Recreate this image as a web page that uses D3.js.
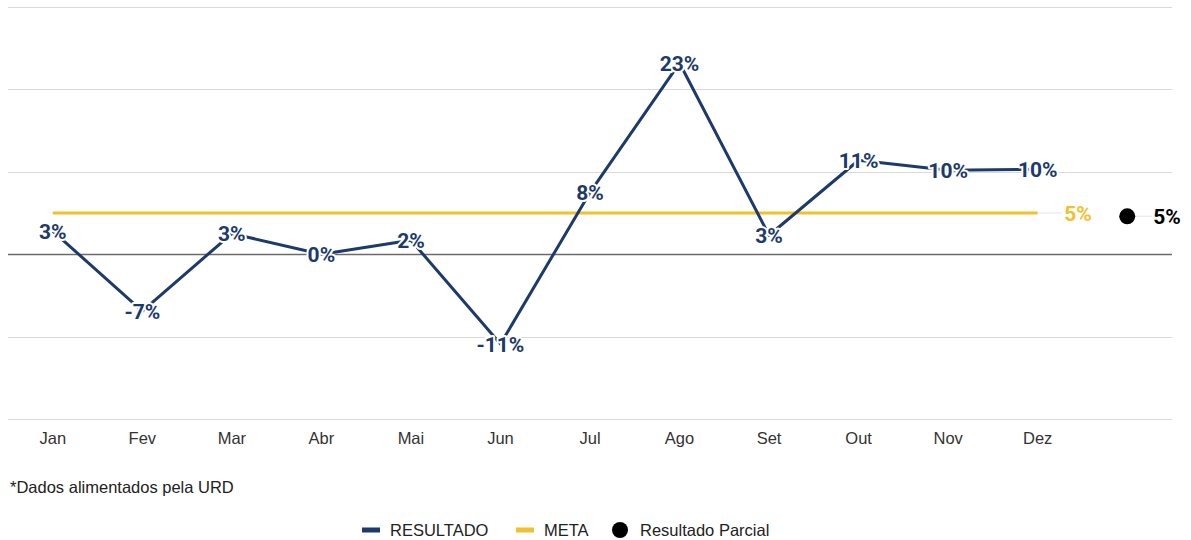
<!DOCTYPE html>
<html>
<head>
<meta charset="utf-8">
<script src="https://cdn.jsdelivr.net/npm/d3@7"></script>
<style>
  body { margin: 0; background: #fff; }
  svg { display: block; }
</style>
</head>
<body>
<div id="chart"></div>
<script>
var months = ["Jan", "Fev", "Mar", "Abr", "Mai", "Jun", "Jul", "Ago", "Set", "Out", "Nov", "Dez"];
var resultado = [2.8, -6.9, 2.5, 0, 1.7, -10.9, 7.5, 23.2, 2.3, 11.4, 10.2, 10.3];
var resultadoLabels = ["3%", "-7%", "3%", "0%", "2%", "-11%", "8%", "23%", "3%", "11%", "10%", "10%"];
var meta = 5;
var metaLabel = "5%";
var parcial = 4.6;
var parcialLabel = "5%";
var yTicks = [-20, -10, 0, 10, 20, 30];

var W = 1191, H = 540;
var NAVY = "#1c3a6a", YELLOW = "#f2c02b";
var SANS = "'Liberation Sans', Arial, sans-serif";

var svg = d3.select("#chart").append("svg")
  .attr("width", W)
  .attr("height", H);

// one extra empty band holds the partial result dot
var cats = months.concat([""]);
var x = d3.scaleBand().domain(cats).range([8, 1172]);
var y = d3.scaleLinear().domain([-20, 30]).range([419, 7]);
var cx = function(m) { return x(m) + x.bandwidth() / 2; };

// gridlines
svg.append("g").selectAll("line")
  .data(yTicks)
  .enter().append("line")
  .attr("x1", 8).attr("x2", 1172)
  .attr("y1", function(d) { return Math.round(y(d)) + 0.5; })
  .attr("y2", function(d) { return Math.round(y(d)) + 0.5; })
  .style("stroke", function(d) { return d === 0 ? "#6b6b6b" : "#d9d9d9"; })
  .style("stroke-width", function(d) { return d === 0 ? 1.5 : 1.2; });

// x axis labels
var xAxis = svg.append("g")
  .attr("transform", "translate(0,430)")
  .call(d3.axisBottom(x).tickSize(0).tickPadding(0));
xAxis.select(".domain").remove();
xAxis.selectAll("text")
  .attr("dy", "0.85em")
  .style("font-family", SANS)
  .style("font-size", "16.5px")
  .style("fill", "#333");

// meta line
svg.append("line")
  .attr("x1", cx("Jan")).attr("x2", cx("Dez"))
  .attr("y1", y(meta)).attr("y2", y(meta))
  .style("stroke", YELLOW)
  .style("stroke-width", 3);

// leader lines for end labels
svg.append("line")
  .attr("x1", cx("Dez")).attr("x2", 1062)
  .attr("y1", y(meta)).attr("y2", y(meta))
  .style("stroke", "#eeeeee").style("stroke-width", 1.5);
svg.append("line")
  .attr("x1", cx("")).attr("x2", 1152)
  .attr("y1", y(parcial)).attr("y2", y(parcial))
  .style("stroke", "#eeeeee").style("stroke-width", 1.5);

// resultado line
var line = d3.line()
  .x(function(d, i) { return cx(months[i]); })
  .y(function(d) { return y(d); });

svg.append("path")
  .datum(resultado)
  .attr("d", line)
  .style("fill", "none")
  .style("stroke", NAVY)
  .style("stroke-width", 3)
  .style("stroke-linejoin", "round");

// resultado labels with white halo
svg.append("g").selectAll("text")
  .data(resultado)
  .enter().append("text")
  .attr("x", function(d, i) { return cx(months[i]); })
  .attr("y", function(d) { return y(d); })
  .attr("dy", "0.36em")
  .attr("text-anchor", "middle")
  .style("font-family", "Roboto, sans-serif")
  .style("font-weight", "bold")
  .style("font-size", "21px")
  .style("fill", NAVY)
  .style("stroke", "#fff")
  .style("stroke-width", 4)
  .style("stroke-linejoin", "round")
  .style("paint-order", "stroke")
  .text(function(d, i) { return resultadoLabels[i]; });

// meta label
svg.append("text")
  .attr("x", 1078).attr("y", y(meta))
  .attr("dy", "0.36em")
  .attr("text-anchor", "middle")
  .style("font-family", "Roboto, sans-serif")
  .style("font-weight", "bold")
  .style("font-size", "21px")
  .style("fill", YELLOW)
  .text(metaLabel);

// parcial dot and label
svg.append("circle")
  .attr("cx", cx("")).attr("cy", y(parcial))
  .attr("r", 8)
  .style("fill", "#000");
svg.append("text")
  .attr("x", 1167).attr("y", y(parcial))
  .attr("dy", "0.36em")
  .attr("text-anchor", "middle")
  .style("font-family", "Roboto, sans-serif")
  .style("font-weight", "bold")
  .style("font-size", "21px")
  .style("fill", "#000")
  .text(parcialLabel);

// footnote
svg.append("text")
  .attr("x", 10).attr("y", 493)
  .style("font-family", SANS)
  .style("font-size", "16.5px")
  .style("fill", "#222")
  .text("*Dados alimentados pela URD");

// legend
var legend = svg.append("g").attr("transform", "translate(0,530)");
var lg = [
  { label: "RESULTADO", color: NAVY, type: "bar", x: 362 },
  { label: "META", color: YELLOW, type: "bar", x: 516 },
  { label: "Resultado Parcial", color: "#000", type: "dot", x: 612 }
];
lg.forEach(function(d) {
  if (d.type === "bar") {
    legend.append("rect")
      .attr("x", d.x).attr("y", -2.5)
      .attr("width", 18).attr("height", 5)
      .style("fill", d.color);
  } else {
    legend.append("circle")
      .attr("cx", d.x + 8).attr("cy", 0).attr("r", 8)
      .style("fill", d.color);
  }
  legend.append("text")
    .attr("x", d.x + 28).attr("dy", "0.35em")
    .style("font-family", SANS)
    .style("font-size", "16.5px").style("fill", "#222")
    .text(d.label);
});
</script>
</body>
</html>
